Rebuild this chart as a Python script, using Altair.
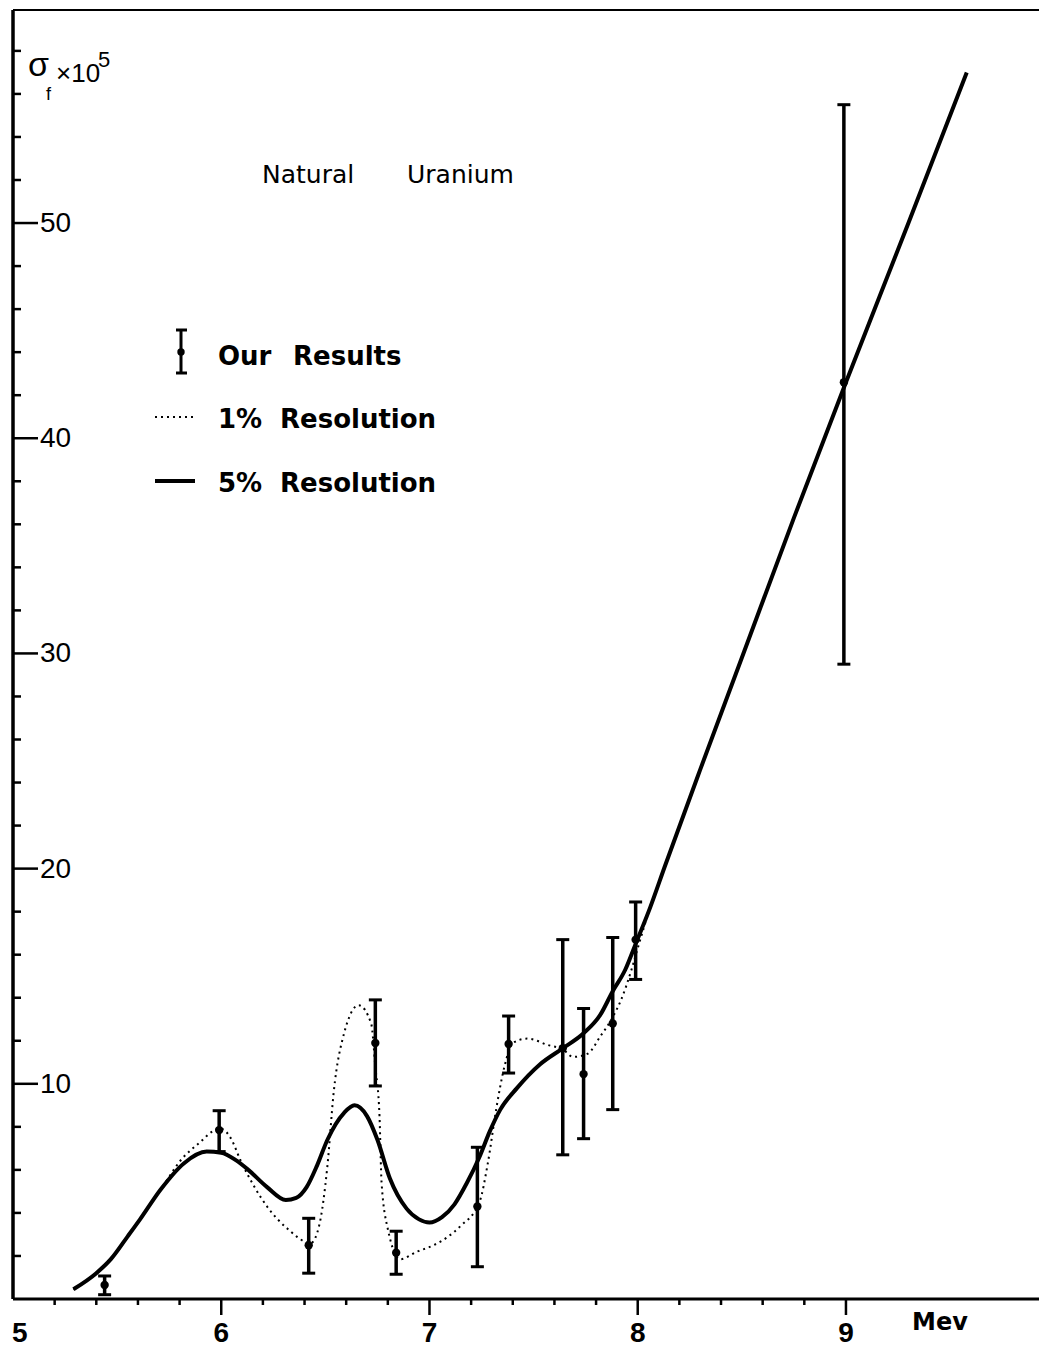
import altair as alt
import pandas as pd

# ---------------- data ----------------
# 5% resolution curve (solid)
solid_x = [5.29, 5.40, 5.47, 5.55, 5.61, 5.71, 5.82, 5.93, 6.00, 6.07, 6.13, 6.22, 6.31, 6.36,
           6.41, 6.46, 6.51, 6.59, 6.64, 6.70, 6.75, 6.81, 6.89, 6.95, 7.00, 7.06, 7.12, 7.18,
           7.24, 7.29, 7.34, 7.42, 7.53, 7.64, 7.74, 7.82, 7.88, 7.94, 7.99, 8.06, 8.13, 8.30,
           8.50, 8.75, 9.00, 9.30, 9.58]
solid_y = [0.45, 1.2, 1.85, 2.9, 3.7, 5.1, 6.3, 6.85, 6.8, 6.45, 6.0, 5.2, 4.6, 4.7,
           5.2, 6.2, 7.4, 8.65, 9.0, 8.5, 7.4, 5.6, 4.2, 3.7, 3.55, 3.8, 4.4, 5.4,
           6.6, 7.8, 8.8, 9.8, 10.9, 11.65, 12.35, 13.2, 14.3, 15.3, 16.5, 18.2, 20.1, 24.6,
           29.8, 36.3, 42.6, 50.0, 57.0]

# 1% resolution curve (dotted)
dotted_x = [5.29, 5.47, 5.61, 5.71, 5.81, 5.90, 5.96, 6.00, 6.05, 6.09, 6.16, 6.22, 6.32,
            6.43, 6.47, 6.51, 6.54, 6.59, 6.66, 6.72, 6.74, 6.76, 6.77, 6.80, 6.86, 6.94,
            7.02, 7.09, 7.15, 7.24, 7.28, 7.32, 7.36, 7.40, 7.47, 7.57, 7.64, 7.69, 7.76,
            7.82, 7.88, 7.92, 7.97, 8.00, 8.06, 8.13]
dotted_y = [0.45, 1.85, 3.7, 5.1, 6.5, 7.3, 7.8, 7.9, 7.4, 6.5, 5.2, 4.3, 3.25,
            2.6, 3.4, 6.2, 9.6, 12.35, 13.65, 12.8, 10.8, 8.5, 5.4, 3.25, 1.85, 2.2,
            2.5, 2.9, 3.4, 4.5, 6.3, 8.8, 10.8, 11.9, 12.1, 11.8, 11.6, 11.25, 11.4,
            12.2, 13.1, 13.9, 15.3, 16.3, 18.2, 20.1]

# "Our Results": measured points with error bars
pt_x = [5.44, 5.99, 6.42, 6.74, 6.84, 7.23, 7.38, 7.64, 7.74, 7.88, 7.99, 8.99]
pt_y = [0.65, 7.85, 2.5, 11.9, 2.15, 4.3, 11.85, 11.65, 10.45, 12.8, 16.7, 42.6]
pt_lo = [0.2, 6.85, 1.2, 9.9, 1.15, 1.5, 10.5, 6.7, 7.45, 8.8, 14.85, 29.5]
pt_hi = [1.07, 8.75, 3.75, 13.9, 3.15, 7.05, 13.15, 16.7, 13.5, 16.8, 18.45, 55.5]

# axis ticks and labels
x_major = [6, 7, 8, 9]
x_minor = [5.2, 5.4, 5.6, 5.8, 6.2, 6.4, 6.6, 6.8, 7.2, 7.4, 7.6, 7.8, 8.2, 8.4, 8.6, 8.8]
x_labels = ["6", "7", "8", "9"]
x_label_vals = [6, 7, 8, 9]
x_first_label = "5"
x_first_val = 5
y_major = [10, 20, 30, 40, 50]
y_minor = [v for v in range(2, 60, 2) if v % 10 != 0]
y_labels = ["10", "20", "30", "40", "50"]

# ---------------- chart ----------------
W, H = 1026, 1289
xs = alt.Scale(domain=[5, 9.927], nice=False, zero=False)
ys = alt.Scale(domain=[0, 59.9], nice=False, zero=False)
X = lambda f: alt.X(f, type="quantitative", scale=xs, axis=None)
Y = lambda f: alt.Y(f, type="quantitative", scale=ys, axis=None)

one = pd.DataFrame({"a": [0]})
solid = pd.DataFrame({"x": solid_x, "y": solid_y})
dotted = pd.DataFrame({"x": dotted_x, "y": dotted_y})
pts = pd.DataFrame({"x": pt_x, "y": pt_y, "lo": pt_lo, "hi": pt_hi})
xmaj = pd.DataFrame({"v": x_major})
xmin = pd.DataFrame({"v": x_minor})
xlab = pd.DataFrame({"v": x_label_vals, "t": x_labels})
xlab0 = pd.DataFrame({"v": [x_first_val], "t": [x_first_label]})
ymaj = pd.DataFrame({"v": y_major, "t": y_labels})
ymin = pd.DataFrame({"v": y_minor})

BLACK = "#000000"
FONT = "Liberation Sans"
LFONT = "DejaVu Sans"

layers = []

# frame / axis lines
layers.append(alt.Chart(one).mark_rule(color=BLACK, strokeWidth=3.5).encode(
    x=alt.value(0), y=alt.value(0), y2=alt.value(H)))
layers.append(alt.Chart(one).mark_rule(color=BLACK, strokeWidth=3).encode(
    x=alt.value(0), x2=alt.value(W), y=alt.value(H)))
layers.append(alt.Chart(one).mark_rule(color=BLACK, strokeWidth=1.8).encode(
    x=alt.value(0), x2=alt.value(W), y=alt.value(0)))

# y ticks (inward) and labels
layers.append(alt.Chart(ymaj).mark_rule(color=BLACK, strokeWidth=2.5).encode(
    y=Y("v"), x=alt.value(0), x2=alt.value(25)))
layers.append(alt.Chart(ymin).mark_rule(color=BLACK, strokeWidth=2.5).encode(
    y=Y("v"), x=alt.value(0), x2=alt.value(8)))
layers.append(alt.Chart(ymaj).mark_text(align="left", baseline="middle", font=FONT,
                                       fontSize=28, color=BLACK, dy=1).encode(
    y=Y("v"), x=alt.value(27), text="t:N"))

# x ticks (outward) and labels
layers.append(alt.Chart(xmaj).mark_rule(color=BLACK, strokeWidth=2.5).encode(
    x=X("v"), y=alt.value(H), y2=alt.value(H + 16)))
layers.append(alt.Chart(xmin).mark_rule(color=BLACK, strokeWidth=2.5).encode(
    x=X("v"), y=alt.value(H), y2=alt.value(H + 6)))
layers.append(alt.Chart(xlab).mark_text(align="center", baseline="alphabetic", font=FONT,
                                       fontWeight="bold", fontSize=28, color=BLACK).encode(
    x=X("v"), y=alt.value(H + 43), text="t:N"))
layers.append(alt.Chart(xlab0).mark_text(align="left", baseline="alphabetic", font=FONT,
                                        fontWeight="bold", fontSize=28, color=BLACK, dx=-1).encode(
    x=X("v"), y=alt.value(H + 43), text="t:N"))
layers.append(alt.Chart(one).mark_text(align="center", baseline="alphabetic", font=LFONT,
                                      fontWeight="bold", fontSize=24, color=BLACK).encode(
    x=alt.value(927), y=alt.value(H + 31), text=alt.value("Mev")))

# y-axis title: sigma_f x 10^5
def txt(s, x, y, size, weight="normal", font=FONT):
    return alt.Chart(one).mark_text(align="left", baseline="alphabetic", font=font,
                                    fontSize=size, fontWeight=weight, color=BLACK).encode(
        x=alt.value(x), y=alt.value(y), text=alt.value(s))

layers.append(txt("σ", 15, 66, 34))
layers.append(txt("f", 33, 90, 18))
layers.append(txt("×10", 43, 72, 26))
layers.append(txt("5", 85, 57, 22))

# title text
layers.append(txt("Natural", 249, 173, 25, font=LFONT))
layers.append(txt("Uranium", 394, 173, 25, font=LFONT))

# legend
layers.append(alt.Chart(one).mark_rule(color=BLACK, strokeWidth=3).encode(
    x=alt.value(168), y=alt.value(320), y2=alt.value(363)))
layers.append(alt.Chart(one).mark_rule(color=BLACK, strokeWidth=3).encode(
    x=alt.value(163), x2=alt.value(174), y=alt.value(320)))
layers.append(alt.Chart(one).mark_rule(color=BLACK, strokeWidth=3).encode(
    x=alt.value(163), x2=alt.value(174), y=alt.value(363)))
layers.append(alt.Chart(one).mark_circle(color=BLACK, opacity=1, size=55).encode(
    x=alt.value(168), y=alt.value(342)))
layers.append(txt("Our", 205, 355, 26, "bold", LFONT))
layers.append(txt("Results", 280, 355, 26, "bold", LFONT))
layers.append(alt.Chart(one).mark_rule(color=BLACK, strokeWidth=1.8, strokeDash=[2, 4]).encode(
    x=alt.value(142), x2=alt.value(184), y=alt.value(407)))
layers.append(txt("1%", 205, 418, 26, "bold", LFONT))
layers.append(txt("Resolution", 267, 418, 26, "bold", LFONT))
layers.append(alt.Chart(one).mark_rule(color=BLACK, strokeWidth=4).encode(
    x=alt.value(142), x2=alt.value(182), y=alt.value(471)))
layers.append(txt("5%", 205, 482, 26, "bold", LFONT))
layers.append(txt("Resolution", 267, 482, 26, "bold", LFONT))

# curves
layers.append(alt.Chart(dotted).mark_line(color=BLACK, strokeWidth=2, strokeDash=[2, 4],
                                          interpolate="monotone").encode(
    x=X("x"), y=Y("y"), order="x:Q"))
layers.append(alt.Chart(solid).mark_line(color=BLACK, strokeWidth=4,
                                         interpolate="monotone").encode(
    x=X("x"), y=Y("y"), order="x:Q"))

# data points with error bars
layers.append(alt.Chart(pts).mark_rule(color=BLACK, strokeWidth=3.5).encode(
    x=X("x"), y=Y("lo"), y2="hi:Q"))
layers.append(alt.Chart(pts).mark_tick(color=BLACK, orient="horizontal", size=13,
                                       thickness=3, opacity=1).encode(x=X("x"), y=Y("hi")))
layers.append(alt.Chart(pts).mark_tick(color=BLACK, orient="horizontal", size=13,
                                       thickness=3, opacity=1).encode(x=X("x"), y=Y("lo")))
layers.append(alt.Chart(pts).mark_circle(color=BLACK, opacity=1, size=70).encode(
    x=X("x"), y=Y("y")))

chart = alt.layer(*layers).properties(
    width=W, height=H,
    padding={"left": 5, "top": 2, "right": 0, "bottom": 52},
    autosize=alt.AutoSizeParams(type="none"),
    background="white",
).configure_view(stroke=None)

chart.save("out.html", embed_options={"renderer": "svg", "actions": False})
